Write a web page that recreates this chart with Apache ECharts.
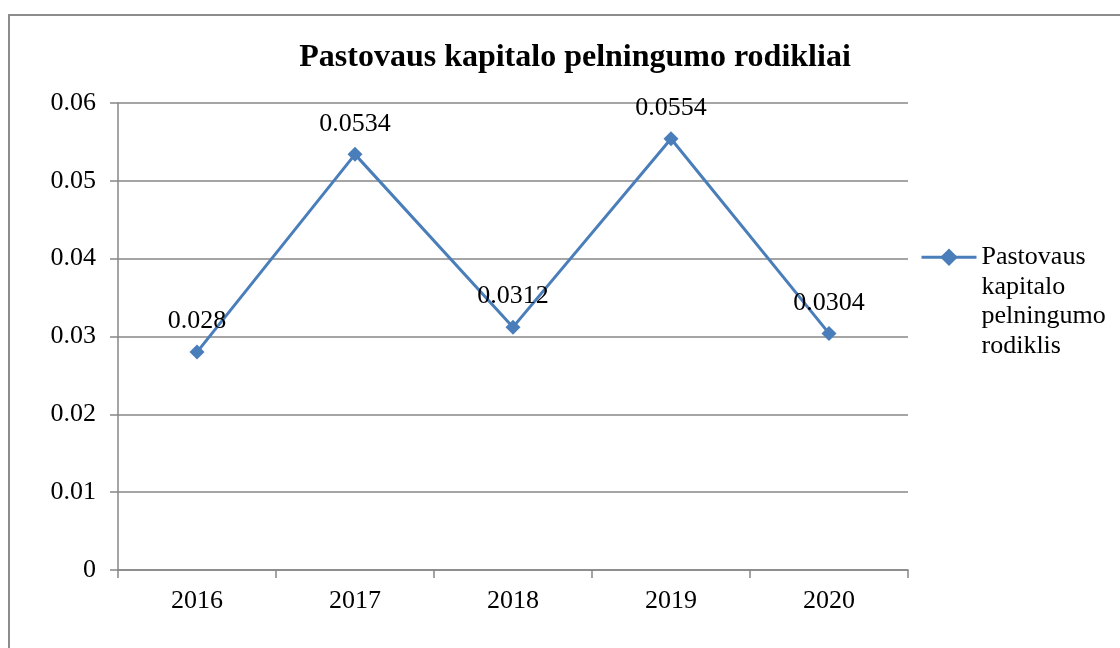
<!DOCTYPE html>
<html>
<head>
<meta charset="utf-8">
<script src="https://cdn.jsdelivr.net/npm/echarts@6/dist/echarts.min.js"></script>
<style>
  html, body { margin: 0; padding: 0; background: #fff; }
  #frame {
    position: absolute; left: 8px; top: 14px; width: 1120px; height: 648px;
    border-left: 2px solid #8c8c8c; border-top: 2px solid #8c8c8c;
  }
  #chart { position: absolute; left: 0; top: 0; width: 1120px; height: 648px; }
</style>
</head>
<body>
<div id="frame"></div>
<div id="chart"></div>
<script>
const years = ['2016', '2017', '2018', '2019', '2020'];
const ratios = [0.028, 0.0534, 0.0312, 0.0554, 0.0304];
const seriesName = 'Pastovaus kapitalo pelningumo rodiklis';
// blank lines on top keep the first text line level with the legend icon
const legendLabel = '\n\n\nPastovaus\nkapitalo\npelningumo\nrodiklis';
const titleText = 'Pastovaus kapitalo pelningumo rodikliai';

const serif = '"Liberation Serif", "DejaVu Serif", serif';
const gridColor = '#878787';
const lineColor = '#4a7ebb';

const chart = echarts.init(document.getElementById('chart'));

chart.setOption({
  animation: false,
  textStyle: { fontFamily: serif, color: '#000' },
  title: {
    text: titleText,
    left: 570,
    top: 37,
    textAlign: 'center',
    textStyle: { fontFamily: serif, fontSize: 32, fontWeight: 'bold', color: '#000' },
  },
  legend: {
    left: 920,
    top: 154,
    padding: 0,
    itemWidth: 55,
    itemHeight: 22,
    itemGap: 0,
    formatter: () => legendLabel,
    lineStyle: { width: 3 },
    textStyle: {
      fontFamily: serif,
      fontSize: 26,
      lineHeight: 29.5,
      color: '#000',
    },
    data: [seriesName],
  },
  grid: {
    left: 118,
    right: 212,
    top: 103,
    bottom: 78,
    containLabel: false,
  },
  xAxis: {
    type: 'category',
    data: years,
    boundaryGap: true,
    axisLine: { lineStyle: { color: gridColor, width: 1.5 } },
    axisTick: { show: true, length: 8, lineStyle: { color: gridColor, width: 1.5 } },
    axisLabel: { color: '#000', fontFamily: serif, fontSize: 26, margin: 18 },
  },
  yAxis: {
    type: 'value',
    min: 0,
    max: 0.06,
    interval: 0.01,
    axisLine: { show: true, lineStyle: { color: gridColor, width: 1.5 } },
    axisTick: { show: true, length: 8, lineStyle: { color: gridColor, width: 1.5 } },
    axisLabel: {
      color: '#000',
      fontFamily: serif,
      fontSize: 26,
      margin: 22,
      formatter: (v) => String(Math.round(v * 100) / 100),
    },
    splitLine: { lineStyle: { color: gridColor, width: 1.5 } },
  },
  series: [
    {
      name: seriesName,
      type: 'line',
      data: ratios,
      symbol: 'diamond',
      symbolSize: 15,
      lineStyle: { color: lineColor, width: 3 },
      itemStyle: { color: lineColor },
      label: {
        show: true,
        position: 'top',
        distance: 10,
        color: '#000',
        fontFamily: serif,
        fontSize: 26,
        formatter: (p) => String(p.value),
      },
    },
  ],
});
</script>
</body>
</html>
